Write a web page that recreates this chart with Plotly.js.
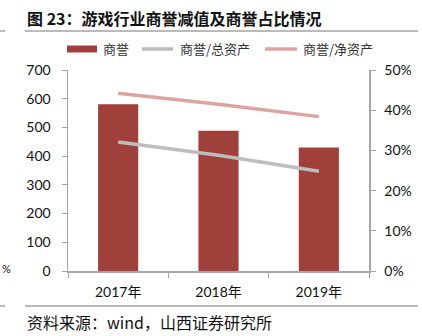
<!DOCTYPE html>
<html>
<head>
<meta charset="utf-8">
<script src="https://cdn.plot.ly/plotly-3.0.1.min.js"></script>
<style>html,body{margin:0;padding:0;background:#fff;}#chart{width:422px;height:336px;}</style>
</head>
<body>
<div id="chart"></div>
<script>
const categories = ['2017年', '2018年', '2019年'];
const goodwill = [581, 488, 430];
const goodwillToAssets = [0.321, 0.288, 0.248];
const goodwillToEquity = [0.442, 0.415, 0.384];
const seriesNames = ['商誉', '商誉/总资产', '商誉/净资产'];
const seriesColors = ['#A0403B', '#BDBDBD', '#DDA3A3'];
const leftTicks = [0, 100, 200, 300, 400, 500, 600, 700];
const rightTicks = [0, 0.1, 0.2, 0.3, 0.4, 0.5];

const W = 422, H = 336;
const L = 68, R = 369, T = 70, B = 271;
const px = x => (x - L) / (R - L);
const py = y => (B - y) / (B - T);

const cjk = '"Noto Sans CJK SC", "Noto Sans", sans-serif';
const num = 'Lato, "Noto Sans CJK SC", sans-serif';

const traces = [
  {type: 'bar', x: categories, y: goodwill, name: seriesNames[0], width: 0.4,
   marker: {color: seriesColors[0]}, yaxis: 'y'},
  {type: 'scatter', mode: 'lines', x: categories, y: goodwillToAssets, name: seriesNames[1],
   line: {color: seriesColors[1], width: 3.5}, yaxis: 'y2'},
  {type: 'scatter', mode: 'lines', x: categories, y: goodwillToEquity, name: seriesNames[2],
   line: {color: seriesColors[2], width: 3.5}, yaxis: 'y2'}
];

// custom legend (layout positions only)
const legendItems = [
  {x0: 67, x1: 97, tx: 101, kind: 'rect'},
  {x0: 142, x1: 173, tx: 178, kind: 'line'},
  {x0: 265, x1: 297, tx: 301, kind: 'line'}
];
const legendY = 49;
const legendShapes = legendItems.map((it, i) => it.kind === 'rect'
  ? {type: 'rect', xref: 'paper', yref: 'paper', x0: px(it.x0), x1: px(it.x1), y0: py(legendY - 3.5), y1: py(legendY + 3.5),
     fillcolor: seriesColors[i], line: {width: 0}}
  : {type: 'line', xref: 'paper', yref: 'paper', x0: px(it.x0), x1: px(it.x1), y0: py(legendY), y1: py(legendY),
     line: {color: seriesColors[i], width: 3.5}});
const legendText = legendItems.map((it, i) => ({
  xref: 'paper', yref: 'paper', x: px(it.tx), y: py(legendY - 1), xanchor: 'left', yanchor: 'middle',
  text: seriesNames[i], showarrow: false, font: {family: cjk, size: 13, color: '#333'}
}));

const layout = {
  width: W, height: H,
  margin: {l: L, r: W - R, t: T, b: H - B, pad: 0},
  paper_bgcolor: '#fff', plot_bgcolor: '#fff',
  showlegend: false,
  bargap: 0.6,
  xaxis: {type: 'category', showline: true, linecolor: '#A6A6A6', linewidth: 1.5,
          ticks: 'outside', tickson: 'boundaries', ticklen: 5, tickcolor: '#A6A6A6',
          tickfont: {family: num, size: 14, color: '#111'}, showgrid: false, zeroline: false,
          ticklabelstandoff: 8},
  yaxis: {range: [0, 700], tickvals: leftTicks, showline: true, linecolor: '#A6A6A6', linewidth: 1.5,
          ticks: 'outside', ticklen: 5, tickcolor: '#A6A6A6', showgrid: false, zeroline: false,
          tickfont: {family: num, size: 14, color: '#111'}, ticklabelstandoff: 8},
  yaxis2: {range: [0, 0.5], tickvals: rightTicks, tickformat: '.0%', overlaying: 'y', side: 'right',
           showline: true, linecolor: '#A6A6A6', linewidth: 1.5, ticks: 'outside', ticklen: 5,
           tickcolor: '#A6A6A6', showgrid: false, zeroline: false,
           tickfont: {family: num, size: 14, color: '#111'}, ticklabelstandoff: 6},
  annotations: [
    {xref: 'paper', yref: 'paper', x: px(25), y: py(18), xanchor: 'left', yanchor: 'middle',
     text: '<b>图 23：游戏行业商誉减值及商誉占比情况</b>', showarrow: false,
     font: {family: cjk, size: 16, color: '#111'}},
    {xref: 'paper', yref: 'paper', x: px(25), y: py(322), xanchor: 'left', yanchor: 'middle',
     text: '资料来源：wind，山西证券研究所', showarrow: false,
     font: {family: cjk, size: 16, color: '#111'}},
    {xref: 'paper', yref: 'paper', x: px(0), y: py(268), xanchor: 'left', yanchor: 'middle',
     text: '%', showarrow: false, font: {family: num, size: 11, color: '#111'}}
  ].concat(legendText),
  shapes: [
    {type: 'line', xref: 'paper', yref: 'paper', x0: px(25), x1: px(418), y0: py(31), y1: py(31),
     line: {color: '#777', width: 1}},
    {type: 'line', xref: 'paper', yref: 'paper', x0: px(0), x1: px(5), y0: py(31), y1: py(31),
     line: {color: '#777', width: 1}},
    {type: 'line', xref: 'paper', yref: 'paper', x0: px(25), x1: px(418), y0: py(306), y1: py(306),
     line: {color: '#777', width: 1}},
    {type: 'line', xref: 'paper', yref: 'paper', x0: px(0), x1: px(5), y0: py(306), y1: py(306),
     line: {color: '#777', width: 1}}
  ].concat(legendShapes)
};

Plotly.newPlot('chart', traces, layout, {staticPlot: true, displayModeBar: false});
</script>
</body>
</html>
